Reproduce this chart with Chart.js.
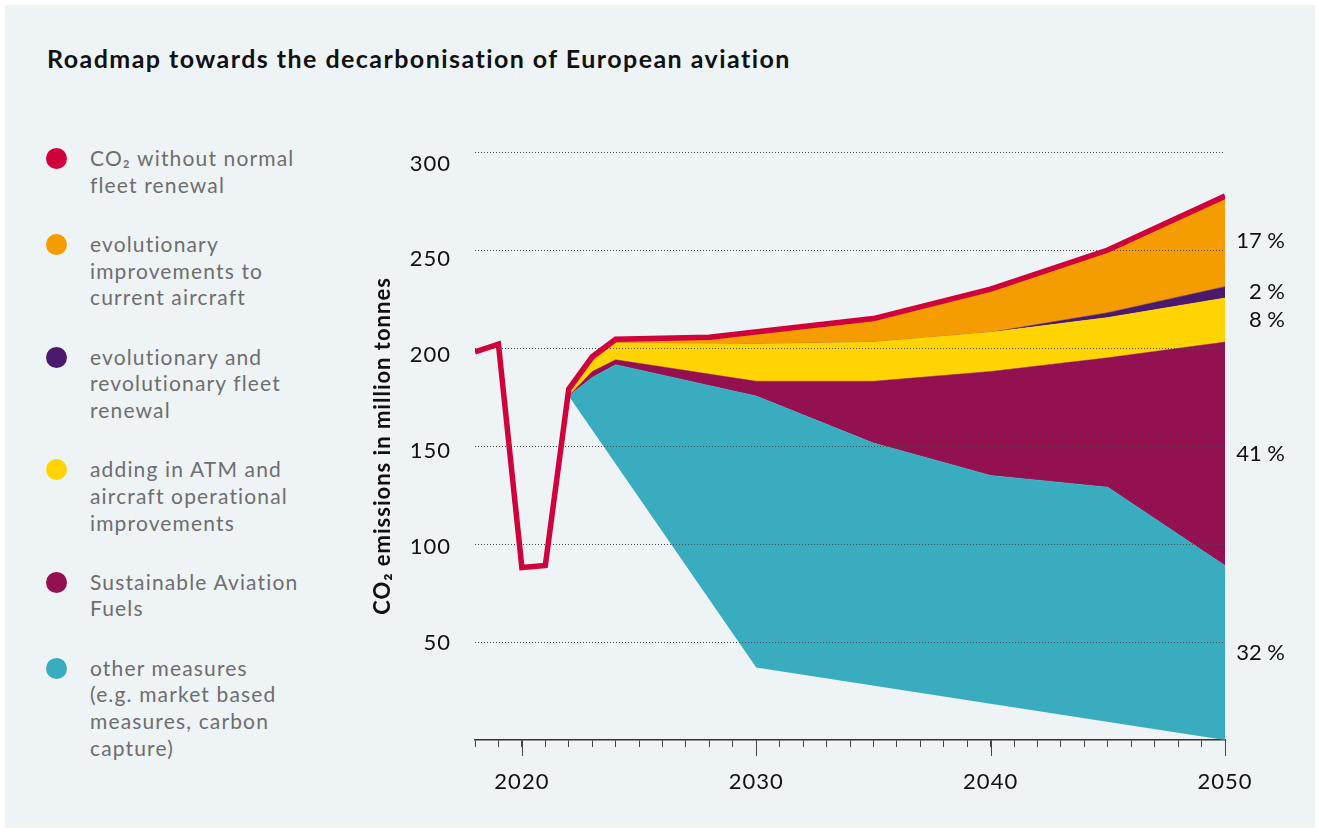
<!DOCTYPE html>
<html>
<head>
<meta charset="utf-8">
<script src="https://cdn.jsdelivr.net/npm/chart.js@4.4.1/dist/chart.umd.min.js"></script>
<style>
  html, body { margin: 0; padding: 0; background: #fff; }
  #panel { position: absolute; left: 5px; top: 5px; width: 1310px; height: 823px; background: #eef3f6; }
  #chart { position: absolute; left: 0; top: 0; }
  h1 {
    position: absolute; left: 47px; top: 43px; margin: 0;
    font: bold 25px Lato, sans-serif; line-height: 30px; letter-spacing: 1.45px; color: #111;
  }
  #legend {
    position: absolute; left: 46px; top: 145px;
    font: 21px Lato, sans-serif; letter-spacing: 1.15px; color: #6e6e6e;
  }
  .item { display: flex; line-height: 26.7px; margin-bottom: 32.5px; }
  .dot { width: 21px; height: 21px; border-radius: 50%; margin-top: 3px; margin-right: 23px; flex: none; }
</style>
</head>
<body>
<div id="panel"></div>
<h1>Roadmap towards the decarbonisation of European aviation</h1>
<div id="legend"></div>
<canvas id="chart" width="1319" height="832"></canvas>
<script>
// CO2 without normal fleet renewal (red line)
const co2Years = [2018, 2019, 2020, 2021, 2022, 2023, 2024, 2028, 2035, 2040, 2045, 2050];
const co2Values = [198, 202, 88, 89, 179, 195.5, 204.5, 205.5, 215, 230, 250, 277.5];

// upper edges of the stacked bands
const bandYears = [2022, 2023, 2024, 2030, 2035, 2040, 2045, 2050];
const fleetTop = [177, 193, 202.5, 202, 203, 208, 218, 231.3];
const atmTop = [177, 193, 202.5, 202, 203, 208, 215.5, 225.5];
const safTop = [175.5, 188, 194, 183, 183, 188, 195, 203];
const otherTop = [175.5, 185, 191.5, 175.5, 151.5, 135, 129, 89];

// lower edge of "other measures"
const otherBottomYears = [2022, 2030, 2050];
const otherBottom = [175.5, 37, 0];

const shareLabels = ["17 %", "2 %", "8 %", "41 %", "32 %"];

const legendItems = [
  { color: "#d0023c", text: "CO₂ without normal<br>fleet renewal" },
  { color: "#f59d00", text: "evolutionary<br>improvements to<br>current aircraft" },
  { color: "#4b1a6e", text: "evolutionary and<br>revolutionary fleet<br>renewal" },
  { color: "#ffd400", text: "adding in ATM and<br>aircraft operational<br>improvements" },
  { color: "#931150", text: "Sustainable Aviation<br>Fuels" },
  { color: "#3aacbf", text: "other measures<br>(e.g. market based<br>measures, carbon<br>capture)" },
];

document.getElementById("legend").innerHTML = legendItems
  .map((it) => `<div class="item"><span class="dot" style="background:${it.color}"></span><span>${it.text}</span></div>`)
  .join("");

const pts = (xs, ys) => xs.map((x, i) => ({ x, y: ys[i] }));

const band = (data, color) => ({
  data,
  fill: "-1",
  backgroundColor: color,
  borderColor: color,
  borderWidth: 0.5,
  pointRadius: 0,
  tension: 0,
});

const spacing = {
  id: "spacing",
  beforeDraw(chart) {
    chart.ctx.letterSpacing = "1px";
  },
};

// dotted grid drawn over the areas, under the red line
const gridOnTop = {
  id: "gridOnTop",
  beforeDatasetDraw(chart, args) {
    if (args.index !== 6) return;
    const { ctx, chartArea, scales: { y } } = chart;
    ctx.save();
    ctx.strokeStyle = "#4a4a4a";
    ctx.lineWidth = 1;
    ctx.setLineDash([1, 2]);
    y.ticks.forEach((t) => {
      if (t.value === 0) return;
      const py = Math.round(y.getPixelForValue(t.value)) + 0.5;
      ctx.beginPath();
      ctx.moveTo(chartArea.left, py);
      ctx.lineTo(chartArea.right, py);
      ctx.stroke();
    });
    ctx.restore();
  },
};

// longer ticks for the decades + share labels on the right
const extras = {
  id: "extras",
  afterDraw(chart) {
    const { ctx, chartArea, scales: { x, y } } = chart;
    ctx.save();
    ctx.strokeStyle = "#444";
    ctx.lineWidth = 1;
    x.ticks.forEach((t) => {
      if (t.value % 10 !== 0) return;
      const px = Math.round(x.getPixelForValue(t.value)) + 0.5;
      ctx.beginPath();
      ctx.moveTo(px, chartArea.bottom);
      ctx.lineTo(px, chartArea.bottom + 16);
      ctx.stroke();
    });

    const edges = [co2Values, fleetTop, atmTop, safTop, otherTop, otherBottom].map((a) => a[a.length - 1]);
    ctx.letterSpacing = "0px";
    ctx.fillStyle = "#111";
    ctx.font = "22px Lato";
    ctx.textAlign = "right";
    ctx.textBaseline = "middle";
    shareLabels.forEach((label, i) => {
      const mid = (edges[i] + edges[i + 1]) / 2;
      ctx.fillText(label, chartArea.right + 60, y.getPixelForValue(mid));
    });
    ctx.restore();
  },
};

new Chart(document.getElementById("chart"), {
  type: "line",
  data: {
    datasets: [
      { data: pts(otherBottomYears, otherBottom), borderWidth: 0, pointRadius: 0, fill: false },
      band(pts(bandYears, otherTop), "#3aacbf"),
      band(pts(bandYears, safTop), "#931150"),
      band(pts(bandYears, atmTop), "#ffd400"),
      band(pts(bandYears, fleetTop), "#4b1a6e"),
      band(pts(co2Years.slice(4), co2Values.slice(4)), "#f59d00"),
      {
        data: pts(co2Years, co2Values),
        borderColor: "#d0023c",
        borderWidth: 5.5,
        borderJoinStyle: "miter",
        pointRadius: 0,
        fill: false,
        tension: 0,
        order: -1,
      },
    ],
  },
  options: {
    responsive: false,
    animation: false,
    devicePixelRatio: 1,
    layout: { padding: { left: 359, right: 94, top: 152, bottom: 0 } },
    plugins: { legend: { display: false }, tooltip: { enabled: false } },
    scales: {
      x: {
        type: "linear",
        min: 2018,
        max: 2050,
        border: { display: true, color: "#333", width: 1.5 },
        grid: { display: true, drawOnChartArea: false, drawTicks: true, tickLength: 7, color: "#444", tickColor: "#444" },
        ticks: {
          stepSize: 1,
          autoSkip: false,
          maxRotation: 0,
          padding: 22,
          color: "#111",
          font: { family: "Lato", size: 22 },
          callback: (v) => (v % 10 === 0 ? String(v) : ""),
        },
        afterFit: (s) => { s.height = 92; },
      },
      // value axis used by the data and the dotted grid
      y: {
        display: false,
        min: 0,
        max: 300,
        ticks: { stepSize: 50 },
      },
      // label axis: in the original the numbers sit slightly off the grid
      yLabels: {
        position: "left",
        min: -0.6,
        max: 306,
        border: { display: false },
        grid: { display: false, drawTicks: false },
        ticks: {
          stepSize: 50,
          includeBounds: false,
          padding: 24,
          color: "#111",
          font: { family: "Lato", size: 22 },
          callback: (v) => (v >= 50 && v % 50 === 0 ? String(v) : ""),
        },
        title: {
          display: true,
          text: "CO₂ emissions in million tonnes",
          color: "#111",
          font: { family: "Lato", size: 22, weight: "bold" },
          padding: { top: 11, bottom: 0 },
        },
        afterFit: (s) => { s.width = 116; },
      },
    },
  },
  plugins: [spacing, gridOnTop, extras],
});
</script>
</body>
</html>
